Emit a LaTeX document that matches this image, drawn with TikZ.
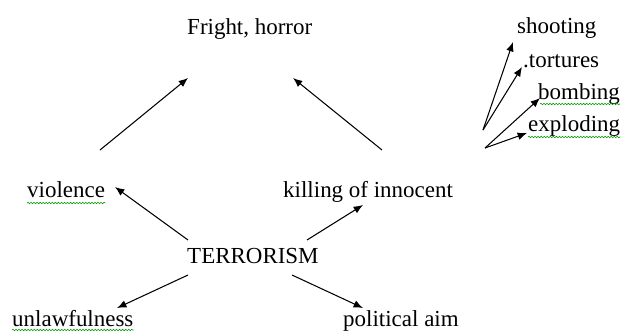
\documentclass[tikz,border=0pt]{standalone}
\usepackage{xcolor}
\usepackage{fontspec}
\setmainfont{Liberation Serif}
\usetikzlibrary{arrows.meta,decorations.pathmorphing}

\begin{document}
\begin{tikzpicture}[x=0.03cm, y=-0.03cm,
    lbl/.style={anchor=base west, inner sep=0pt, font=\fontsize{19.6}{22}\selectfont},
    arr/.style={-{Latex[length=8pt,width=6.5pt]}, line width=0.9pt},
    squig/.style={draw=green!60!black, line width=0.5pt, decorate,
        decoration={snake, amplitude=0.6pt, segment length=2.6pt}}]
    \useasboundingbox (0,0) rectangle (625,331);

    \node[lbl] (fright) at (187,34) {Fright, horror};
    \node[lbl] (shoot) at (517,33) {shooting};
    \node[lbl] (tort) at (523,67) {.tortures};
    \node[lbl] (bomb) at (538,99) {bombing};
    \node[lbl] (expl) at (528,131) {exploding};
    \node[lbl] (viol) at (27,197) {violence};
    \node[lbl] (kill) at (283,197) {killing of innocent};
    \node[lbl] (terr) at (187,263) {TERRORISM};
    \node[lbl] (unlaw) at (12,326) {unlawfulness};
    \node[lbl] (polit) at (343,326) {political aim};

    \coordinate (fanA) at (483,130);
    \coordinate (fanB) at (485,148);

    % towards fright
    \draw[arr] ([shift={(73,-47)}]viol.base west) -- ([shift={(1,44)}]fright.base west);
    \draw[arr] ([shift={(99,-47)}]kill.base west) -- ([shift={(106,44)}]fright.base west);

    % out of terrorism
    \draw[arr] ([shift={(1,-23)}]terr.base west) -- ([shift={(88,-10)}]viol.base west);
    \draw[arr] ([shift={(120,-23)}]terr.base west) -- ([shift={(80,8)}]kill.base west);
    \draw[arr] ([shift={(1,12)}]terr.base west) -- ([shift={(105,-18)}]unlaw.base west);
    \draw[arr] ([shift={(105,12)}]terr.base west) -- ([shift={(20,-18)}]polit.base west);

    % the fan on the right
    \draw[arr] (fanA) -- ([shift={(-4,9)}]shoot.base west);
    \draw[arr] (fanA) -- ([shift={(-1,0)}]tort.base west);
    \draw[arr] (fanB) -- ([shift={(2,-1)}]bomb.base west);
    \draw[arr] (fanB) -- ([shift={(-1,2)}]expl.base west);

    % spell check marks
    \path[squig] ([shift={(0,6)}]viol.base west) -- ([shift={(0,6)}]viol.base east);
    \path[squig] ([shift={(0,4)}]unlaw.base west) -- ([shift={(0,4)}]unlaw.base east);
    \path[squig] ([shift={(2,5)}]bomb.base west) -- ([shift={(0,5)}]bomb.base east);
    \path[squig] ([shift={(0,6)}]expl.base west) -- ([shift={(0,6)}]expl.base east);
\end{tikzpicture}
\end{document}
